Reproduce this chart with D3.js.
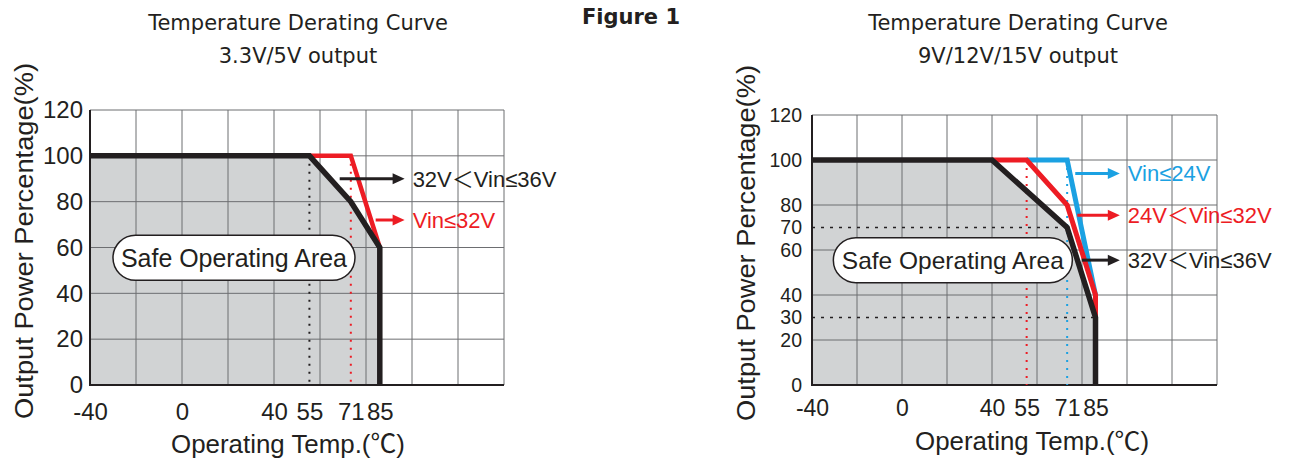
<!DOCTYPE html>
<html>
<head>
<meta charset="utf-8">
<style>
  body { margin: 0; background: #fff; }
  .grid line { stroke: #6d6e71; stroke-width: 1; }
  .tick text { font-family: "Liberation Sans", Arial, sans-serif; fill: #231f20; }
  .title { font-family: "DejaVu Sans", Verdana, sans-serif; font-size: 21px; fill: #231f20; text-anchor: middle; }
  .lbl { font-family: "Liberation Sans", Arial, "Noto Sans CJK SC", sans-serif; fill: #231f20; }
</style>
</head>
<body>
<script src="https://d3js.org/d3.v7.min.js"></script>
<svg width="1300" height="459"></svg>
<script>
// values
var tempTicks = [-40, 0, 40, 55, 71, 85];
var gridTemps = [-40, -20, 0, 20, 40, 60, 80, 100, 120, 140];
var gridPcts = [0, 20, 40, 60, 80, 100, 120];
var pctTicksA = [0, 20, 40, 60, 80, 100, 120];
var pctTicksB = [0, 20, 30, 40, 60, 70, 80, 100, 120];

// left: 3.3V/5V output
var aBlackTemp = [-40, 55, 71, 85, 85];
var aBlackPct  = [100, 100, 80, 60, 0];
var aRedTemp   = [55, 71, 85];
var aRedPct    = [100, 100, 60];
var aLegend    = ["32V\uFF1CVin\u226436V", "Vin\u226432V"];
var aLegendPct = [90, 72];
var aLegendFrom = [66.7, 83];

// right: 9V/12V/15V output
var bBlackTemp = [-40, 40, 71, 85, 85];
var bBlackPct  = [100, 100, 70, 30, 0];
var bRedTemp   = [40, 55, 71, 85, 85];
var bRedPct    = [100, 100, 80, 40, 30];
var bBlueTemp  = [55, 71, 85];
var bBluePct   = [100, 100, 40];
var bLegend    = ["Vin\u226424V", "24V\uFF1CVin\u226432V", "32V\uFF1CVin\u226436V"];
var bLegendPct = [94, 75.5, 55.5];
var bLegendFrom = [75, 76, 78.3];

var BLACK = "#231f20", RED = "#ed1c24", BLUE = "#1ba1e2", FILL = "#d1d3d4";

// printed temps are not evenly spaced on the grid (9 columns of 20 degrees)
var tempStops = [-40, 40, 55, 71, 85, 140];
var stopCols  = [0, 4, 4.77, 5.67, 6.3, 9];

var svg = d3.select("svg");
svg.append("rect").attr("width", 1300).attr("height", 459).attr("fill", "#fff");

svg.append("text").attr("x", 631).attr("y", 24)
  .attr("text-anchor", "middle")
  .style("font-family", "DejaVu Sans, sans-serif").style("font-weight", "bold")
  .style("font-size", "21px").attr("fill", BLACK)
  .text("Figure 1");

function zip(t, p) { return t.map(function(d, i) { return [d, p[i]]; }); }

function drawChart(c) {
  var g = svg.append("g");
  var colPx = d3.scaleLinear().domain([0, 9]).range([c.left, c.right]);
  var x = d3.scaleLinear().domain(tempStops).range(stopCols.map(colPx));
  var xg = d3.scaleLinear().domain([-40, 140]).range([c.left, c.right]);
  var y = d3.scaleLinear().domain([0, 120]).range([c.bottom, c.top]);

  // titles
  c.titles.forEach(function(t, i) {
    g.append("text").attr("class", "title").attr("x", c.titleX).attr("y", 30 + i * 33).text(t);
  });

  // safe area under the black curve
  var black = zip(c.black[0], c.black[1]);
  g.append("path").datum(black)
    .attr("fill", FILL)
    .attr("d", d3.area().x(function(d) { return x(d[0]); }).y0(y(0)).y1(function(d) { return y(d[1]); }));

  // grid
  var grid = g.append("g").attr("class", "grid");
  grid.selectAll(".v").data(gridTemps).enter().append("line")
    .attr("x1", xg).attr("x2", xg).attr("y1", y(0)).attr("y2", y(120));
  grid.selectAll(".h").data(gridPcts).enter().append("line")
    .attr("x1", c.left).attr("x2", c.right).attr("y1", y).attr("y2", y);
  g.append("path").attr("fill", "none").attr("stroke", BLACK).attr("stroke-width", 2)
    .attr("d", "M" + c.left + "," + y(120) + "V" + y(0) + "H" + c.right);

  // dotted guides
  c.vdots.forEach(function(d) {
    g.append("line").attr("x1", x(d.t)).attr("x2", x(d.t)).attr("y1", y(100)).attr("y2", y(0))
      .attr("stroke", d.color).attr("stroke-width", 2).attr("stroke-dasharray", "2,6");
  });
  c.hdots.forEach(function(d) {
    g.append("line").attr("x1", x(-40)).attr("x2", x(d.t)).attr("y1", y(d.p)).attr("y2", y(d.p))
      .attr("stroke", BLACK).attr("stroke-width", 1.5).attr("stroke-dasharray", "3,6");
  });

  // curves
  var line = d3.line().x(function(d) { return x(d[0]); }).y(function(d) { return y(d[1]); });
  c.series.forEach(function(s) {
    g.append("path").datum(zip(s.t, s.p))
      .attr("fill", "none").attr("stroke", s.color).attr("stroke-width", s.w)
      .attr("stroke-linejoin", "miter").attr("d", line);
  });

  // Safe Operating Area label
  var bx = x(22.6), by = y(55.5);
  g.append("rect").attr("x", bx - c.boxW / 2).attr("y", by - 22.5)
    .attr("width", c.boxW).attr("height", 45).attr("rx", 22.5)
    .attr("fill", "#fff").attr("stroke", BLACK).attr("stroke-width", 1.5);
  g.append("text").attr("class", "lbl").attr("x", bx).attr("y", by).attr("dy", "0.35em")
    .attr("text-anchor", "middle").style("font-size", c.boxFont + "px")
    .attr("textLength", c.boxText).attr("lengthAdjust", "spacingAndGlyphs")
    .text("Safe Operating Area");

  // legend arrows
  c.legend.forEach(function(txt, i) {
    var ly = y(c.legendPct[i]), x0 = x(c.legendFrom[i]), x1 = x(96);
    var col = c.legendColor[i];
    g.append("line").attr("x1", x0).attr("x2", x1 - 10).attr("y1", ly).attr("y2", ly)
      .attr("stroke", col).attr("stroke-width", 3);
    g.append("path").attr("d", "M" + (x1 - 12) + "," + (ly - 5.5) + "L" + x1 + "," + ly + "L" + (x1 - 12) + "," + (ly + 5.5) + "Z")
      .attr("fill", col);
    g.append("text").attr("class", "lbl").attr("x", x1 + 8).attr("y", ly).attr("dy", "0.36em")
      .style("fill", col).style("font-size", "22px").text(txt);
  });

  // axes
  var ya = g.append("g").attr("transform", "translate(" + c.left + ",0)")
    .call(d3.axisLeft(y).tickValues(c.yTicks).tickSize(0).tickPadding(c.yPad));
  ya.select(".domain").remove();
  ya.selectAll("text").style("font-size", c.yTickFont + "px");
  var xa = g.append("g").attr("transform", "translate(0," + c.bottom + ")")
    .call(d3.axisBottom(x).tickValues(tempTicks).tickFormat(String).tickSize(0).tickPadding(c.xPad));
  xa.select(".domain").remove();
  xa.selectAll("text").style("font-size", c.tickFont + "px");

  g.append("text").attr("class", "lbl")
    .attr("transform", "translate(" + c.yLabX + "," + c.yLabY + ") rotate(-90)")
    .attr("text-anchor", "middle").style("font-size", c.labFont + "px")
    .attr("textLength", 356).attr("lengthAdjust", "spacingAndGlyphs")
    .text("Output Power Percentage(%)");
  g.append("text").attr("class", "lbl").attr("x", c.xLabX).attr("y", c.xLabY)
    .attr("text-anchor", "middle").style("font-size", c.labFont + "px")
    .attr("textLength", 234).attr("lengthAdjust", "spacingAndGlyphs")
    .text("Operating Temp.(\u2103)");
}

drawChart({
  left: 90, right: 504, top: 110, bottom: 385,
  titles: ["Temperature Derating Curve", "3.3V/5V output"], titleX: 298,
  black: [aBlackTemp, aBlackPct],
  series: [
    { t: aRedTemp, p: aRedPct, color: RED, w: 4.5 },
    { t: aBlackTemp, p: aBlackPct, color: BLACK, w: 5.5 }
  ],
  vdots: [{ t: 55, color: BLACK }, { t: 71, color: RED }],
  hdots: [],
  legend: aLegend, legendPct: aLegendPct, legendFrom: aLegendFrom, legendColor: [BLACK, RED],
  yTicks: pctTicksA, yPad: 7, xPad: 18, tickFont: 24, yTickFont: 24,
  boxW: 242, boxFont: 25, boxText: 226,
  yLabX: 33, yLabY: 241, xLabX: 288, xLabY: 453, labFont: 26
});

drawChart({
  left: 812, right: 1217, top: 115, bottom: 385,
  titles: ["Temperature Derating Curve", "9V/12V/15V output"], titleX: 1018,
  black: [bBlackTemp, bBlackPct],
  series: [
    { t: bBlueTemp, p: bBluePct, color: BLUE, w: 5 },
    { t: bRedTemp, p: bRedPct, color: RED, w: 5 },
    { t: bBlackTemp, p: bBlackPct, color: BLACK, w: 5.5 }
  ],
  vdots: [{ t: 55, color: RED }, { t: 71, color: BLUE }],
  hdots: [{ p: 70, t: 71 }, { p: 30, t: 85 }],
  legend: bLegend, legendPct: bLegendPct, legendFrom: bLegendFrom, legendColor: [BLUE, RED, BLACK],
  yTicks: pctTicksB, yPad: 10, xPad: 15, tickFont: 23, yTickFont: 19.5,
  boxW: 239, boxFont: 24, boxText: 222,
  yLabX: 755, yLabY: 243, xLabX: 1032, xLabY: 450, labFont: 25
});
</script>
</body>
</html>
